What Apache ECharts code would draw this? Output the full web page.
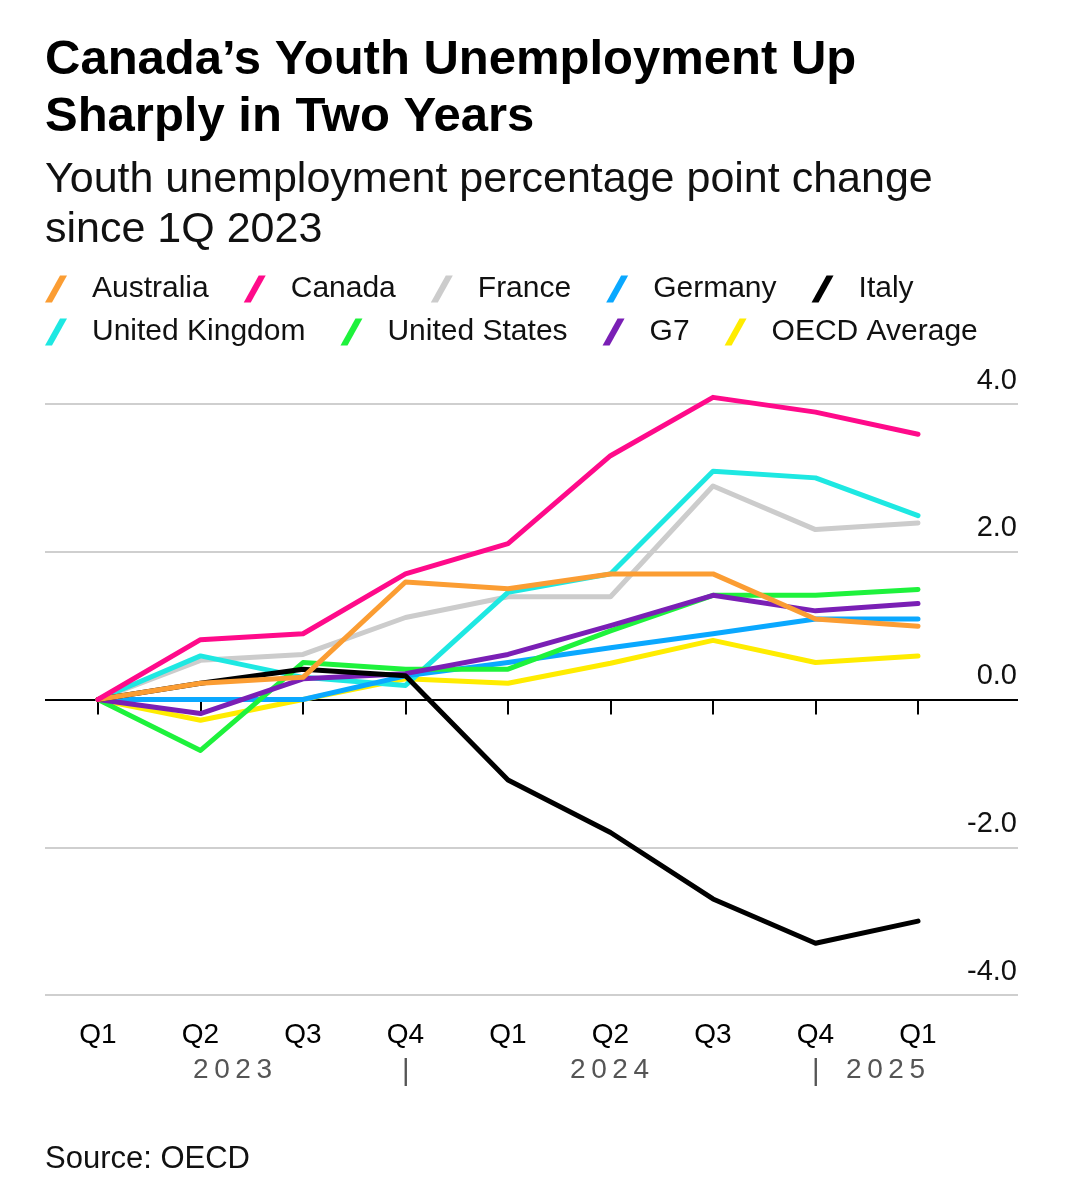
<!DOCTYPE html>
<html>
<head>
<meta charset="utf-8">
<script src="https://cdn.jsdelivr.net/npm/echarts@6/dist/echarts.min.js"></script>
<style>
html,body{margin:0;padding:0;background:#fff;}
#chart{width:1067px;height:1200px;}
</style>
</head>
<body>
<div id="chart"></div>
<script>
const quarters = ['Q1','Q2','Q3','Q4','Q1','Q2','Q3','Q4','Q1'];
const yearLabels = ['2023','|','2024','|','2025'];
const yTicks = [-4, -2, 0, 2, 4];

const australia = [0, 0.22, 0.30, 1.59, 1.50, 1.70, 1.70, 1.09, 0.99];
const canada    = [0, 0.81, 0.89, 1.70, 2.11, 3.30, 4.09, 3.89, 3.59];
const france    = [0, 0.53, 0.61, 1.11, 1.39, 1.39, 2.89, 2.30, 2.39];
const germany   = [0, 0.00, 0.00, 0.32, 0.50, 0.70, 0.89, 1.09, 1.09];
const italy     = [0, 0.22, 0.41, 0.32, -1.09, -1.80, -2.70, -3.30, -3.00];
const uk        = [0, 0.59, 0.30, 0.19, 1.45, 1.70, 3.09, 3.00, 2.49];
const us        = [0, -0.69, 0.50, 0.41, 0.41, 0.93, 1.41, 1.41, 1.49];
const g7        = [0, -0.19, 0.28, 0.35, 0.61, 1.00, 1.41, 1.20, 1.30];
const oecd      = [0, -0.28, 0.00, 0.28, 0.22, 0.49, 0.80, 0.50, 0.59];

const seriesNames = ['Australia','Canada','France','Germany','Italy','United Kingdom','United States','G7','OECD Average'];
const seriesData = [australia, canada, france, germany, italy, uk, us, g7, oecd];
const colors = ['#fb9d33','#ff0a8a','#cccccc','#0aa8ff','#000000','#1ee8e2','#1ef23c','#7a1fb5','#ffec00'];
const zOrder = [7, 9, 3, 5, 6, 4, 5, 5, 2];

const FONT = 'Liberation Sans, Arial, sans-serif';
const ICON = 'path://M0,27 L7,27 L22,0 L15,0 Z';
const spaced = s => s.split('').join('\u2009');

const chart = echarts.init(document.getElementById('chart'), null, {renderer:'canvas'});

const legendCommon = {
  left: 45, padding: 0, icon: ICON, itemWidth: 22, itemHeight: 27, itemGap: 35,
  textStyle: {fontFamily: FONT, fontSize: 30, color: '#111', padding: [0,0,0,20]},
  selectedMode: false
};

const option = {
  backgroundColor: '#fff',
  animation: false,
  color: colors,
  title: {
    left: 45, top: 32, padding: 0,
    text: 'Canada\u2019s Youth Unemployment Up\nSharply in Two Years',
    subtext: 'Youth unemployment percentage point change\nsince 1Q 2023',
    textStyle: {fontFamily: FONT, fontSize: 49, fontWeight: 'bold', color: '#000', lineHeight: 57},
    subtextStyle: {fontFamily: FONT, fontSize: 43, color: '#111', lineHeight: 50},
    itemGap: 9
  },
  legend: [
    Object.assign({top: 274, data: seriesNames.slice(0,5)}, legendCommon),
    Object.assign({top: 317, data: seriesNames.slice(5)}, legendCommon)
  ],
  grid: [
    {left: 98, right: 149, top: 404, bottom: 205},
    {left: 45, right: 49, top: 404, bottom: 205}
  ],
  xAxis: [
    {
      gridIndex: 0, type: 'category', data: quarters, boundaryGap: false,
      axisLine: {show: false},
      axisTick: {show: true, length: 15, lineStyle: {color: '#000', width: 2}},
      axisLabel: {fontFamily: FONT, fontSize: 28, color: '#000', margin: 26, interval: 0},
      splitLine: {show: false}
    },
    {gridIndex: 1, type: 'value', show: false, min: 0, max: 1}
  ],
  yAxis: [
    {gridIndex: 0, type: 'value', min: -4, max: 4, show: false},
    {
      gridIndex: 1, type: 'value', position: 'right', min: yTicks[0], max: yTicks[yTicks.length-1], interval: 2,
      axisLine: {show: false}, axisTick: {show: false},
      axisLabel: {inside: true, margin: 1, fontFamily: FONT, fontSize: 29, color: '#111', verticalAlign: 'bottom', padding: [0,0,9,0],
        formatter: v => v.toFixed(1)},
      splitLine: {show: true, lineStyle: {color: ['#cfcfcf','#cfcfcf','#000000','#cfcfcf','#cfcfcf'], width: 2}}
    }
  ],
  series: seriesNames.map((n, i) => ({
    name: n, type: 'line', xAxisIndex: 0, yAxisIndex: 0, data: seriesData[i],
    symbol: 'none', clip: false, z: zOrder[i],
    lineStyle: {width: 5, color: colors[i], cap: 'round', join: 'round'},
    itemStyle: {color: colors[i]}
  })),
  graphic: [
    {type: 'text', left: 193, top: 1056, style: {text: spaced(yearLabels[0]), font: '28px ' + FONT, fill: '#555'}},
    {type: 'text', left: 402, top: 1057, style: {text: yearLabels[1], font: '29px ' + FONT, fill: '#555'}},
    {type: 'text', left: 570, top: 1056, style: {text: spaced(yearLabels[2]), font: '28px ' + FONT, fill: '#555'}},
    {type: 'text', left: 812, top: 1057, style: {text: yearLabels[3], font: '29px ' + FONT, fill: '#555'}},
    {type: 'text', left: 846, top: 1056, style: {text: spaced(yearLabels[4]), font: '28px ' + FONT, fill: '#555'}},
    {type: 'text', left: 45, top: 1144, style: {text: 'Source: OECD', font: '31px ' + FONT, fill: '#111'}}
  ]
};
chart.setOption(option);
</script>
</body>
</html>
